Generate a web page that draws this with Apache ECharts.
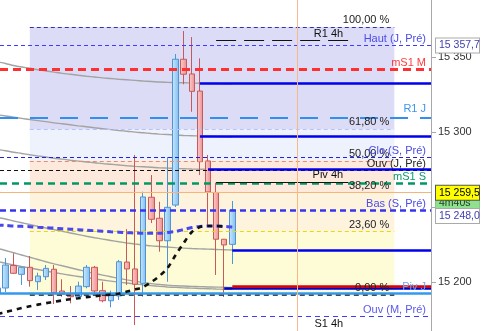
<!DOCTYPE html>
<html><head><meta charset="utf-8">
<script src="https://cdn.jsdelivr.net/npm/echarts@6/dist/echarts.min.js"></script>
<style>html,body{margin:0;padding:0;background:#fff}#c{width:483px;height:331px}</style>
</head><body><div id="c"></div>
<script>
// ---------- DATA ----------
// candles, index 1..30
const candleOpen  = [15192.7,15196.0,15211.0,15205.1,15209.8,15200.2,15203.5,15208.5,15194.0,15191.3,15190.2,15196.9,15209.8,15194.2,15187.5,15190.7,15213.3,15208.7,15199.1,15256.5,15242.5,15227.5,15251.3,15348.5,15338.7,15327.3,15280.7,15259.7,15228.5,15225.1];
const candleClose = [15196.0,15211.3,15205.8,15209.8,15200.9,15204.0,15209.1,15192.9,15191.8,15190.2,15197.3,15209.8,15194.0,15187.5,15191.3,15213.5,15208.7,15198.5,15256.7,15241.8,15227.5,15249.8,15348.5,15338.5,15327.1,15280.2,15260.0,15228.5,15224.7,15248.0];
const candleLow   = [15190.7,15193.3,15205.5,15198.0,15196.9,15194.7,15201.3,15185.3,15190.2,15185.8,15189.1,15195.8,15192.5,15186.5,15183.1,15188.0,15198.0,15171.3,15190.2,15239.3,15220.2,15200.2,15250.0,15331.8,15313.5,15271.3,15237.3,15204.7,15190.0,15212.0];
const candleHigh  = [15198.0,15216.0,15219.1,15210.0,15217.3,15206.2,15211.3,15211.3,15201.8,15197.3,15200.2,15211.3,15210.7,15200.2,15194.2,15214.7,15235.3,15284.7,15260.2,15271.3,15253.5,15283.3,15352.0,15367.3,15363.3,15349.1,15284.7,15266.2,15228.7,15254.0];

// moving averages (gray)
const ma1 = [15346.7,15345.7,15344.3,15343.3,15342.5,15341.5,15340.7,15339.9,15339.1,15338.5,15337.8,15337.2,15336.7,15336.1,15335.7,15335.2,15334.8,15334.4,15334.0,15333.7,15333.3,15333.1,15332.9,15332.8,15332.7,15332.5,15332.4,15332.3,15332.2,15332.1];
const ma2 = [15311.5,15310.7,15309.9,15309.1,15308.3,15307.6,15306.9,15306.1,15305.5,15304.8,15304.1,15303.5,15302.8,15302.2,15301.6,15301.0,15300.5,15299.9,15299.5,15299.0,15298.6,15298.3,15298.0,15297.7,15297.5,15297.3,15297.2,15297.1,15296.9,15296.8];
const ma3 = [15288.3,15287.5,15286.5,15285.7,15284.8,15284.0,15283.3,15282.5,15281.9,15281.2,15280.6,15280.0,15279.5,15278.9,15278.5,15278.0,15277.5,15277.1,15276.8,15276.5,15276.1,15275.9,15275.7,15275.5,15275.3,15275.2,15275.1,15275.0,15274.9,15274.9];
const ma4 = [15243.0,15242.0,15240.7,15239.5,15238.3,15237.1,15236.0,15234.9,15233.8,15232.7,15231.6,15230.5,15229.5,15228.6,15227.7,15226.8,15226.0,15225.3,15224.7,15224.1,15223.7,15223.3,15222.9,15222.6,15222.3,15222.1,15221.9,15221.7,15221.5,15221.3];
const ma5 = [15222.5,15221.0,15219.5,15218.0,15216.5,15215.0,15213.5,15212.1,15210.8,15209.5,15208.2,15206.9,15205.7,15204.6,15203.5,15202.4,15201.4,15200.5,15199.7,15198.9,15198.3,15197.9,15197.5,15197.3,15197.1,15196.9,15196.7,15196.6,15196.5,15196.3];
const ma6 = [15213.7,15212.5,15211.4,15210.3,15209.3,15208.3,15207.3,15206.3,15205.4,15204.5,15203.7,15202.9,15202.1,15201.3,15200.6,15199.9,15199.3,15198.7,15198.1,15197.6,15197.1,15196.7,15196.4,15196.1,15195.9,15195.7,15195.5,15195.3,15195.2,15195.1];
// trailing indicators (dashed)
const trailBlack = [15178.6,15180.0,15181.3,15182.6,15183.8,15184.9,15185.9,15186.8,15187.7,15188.5,15189.2,15189.9,15190.5,15191.1,15191.6,15192.2,15193.7,15195.0,15196.7,15200.0,15204.0,15209.3,15218.0,15226.0,15233.3,15236.7,15237.3,15237.3,15237.0];
const trailBlue  = [15238.0,15237.7,15237.3,15237.1,15236.9,15236.5,15236.2,15235.9,15235.5,15235.2,15234.9,15234.5,15234.2,15233.9,15233.5,15233.2,15232.9,15232.7,15232.5,15232.5,15232.5,15233.0,15233.7,15235.0,15236.3,15237.0,15237.3,15237.3,15237.0,15236.7];

// named levels (full width)
const levelNames  = ['Haut (J, Pré)','mS1 M','R1 J','Clo (S, Pré)','Ouv (J, Pré)','mS1 S','Bas (S, Pré)','Piv J','Ouv (M, Pré)'];
const levelValues = [15357.7,15342.0,15309.5,15283.3,15274.5,15266.0,15248.0,15192.3,15177.3];
// Fibonacci retracement
const fibLabels = ['100,00 %','61,80 %','50,00 %','38,20 %','23,60 %','0,00 %'];
const fibValues = [15370.0,15301.7,15280.7,15259.6,15233.5,15191.3];
const fibRange  = [5, 50];          // candle index range of the retracement box
// 4h pivots
const piv4hNames  = ['R1 4h','Piv 4h','S1 4h'];
const piv4hValues = [15361.3,15266.7,15167.6];
const piv4hRange  = [28, 44.3];
// lines starting at a candle and extending right
const rayStart  = [26, 26, 27, 30, 29, 30];
const rayValues = [15332.7, 15297.3, 15275.3, 15221.3, 15196.0, 15197.0];
// current price, timer, vertical marker
const lastPrice = 15259.5;
const timerText = '4m40s';
const timerValue = 15252.7;
const vMarker = 38;
// axis
const yTicks = [15200, 15250, 15300, 15350];
const yTickLabels = ['15 200','15 250','15 300','15 350'];

// ---------- STYLE / LAYOUT ----------
const FONT = '"Liberation Sans", Arial, sans-serif';
const xMin = 1.32, xMax = 54.53;
const yMin = 15167.33, yMax = 15388;

function fmt(v){ const s = v.toFixed(1).split('.'); const i = s[0]; return i.slice(0, i.length-3) + ' ' + i.slice(-3) + ',' + s[1]; }

const levelStyles = [
  {color:'#3d3dff', width:1, type:[4,3], text:'#4b4bea'},
  {color:'#ff3030', width:3, type:[8,5], text:'#ff3b3b'},
  {color:'#3090f0', width:2, type:[18,12], text:'#3d95ee', dy:3},
  {color:'#2222d8', width:1, type:[4,3], text:'#4b4bea'},
  {color:'#111111', width:1, type:[4,3], text:'#222'},
  {color:'#009966', width:2.5, type:[7,5], text:'#0a9a6a'},
  {color:'#3535f0', width:2.5, type:[6,4], text:'#4b4bea'},
  {color:'#3399ee', width:2.5, type:'solid', text:'#6aaaf0'},
  {color:'#3d3dff', width:1, type:[5,4], text:'#5a5aee'}
];
const fibStyles = [
  {color:'#3030b0', width:1, type:[4,3]},
  {color:'#b4c4fa', width:1, type:[4,3]},
  {color:'#f08a60', width:1, type:[4,3]},
  {color:'#f5b47a', width:1, type:'solid'},
  {color:'#e6dc00', width:1.2, type:[4,3]},
  {color:'#111111', width:1.5, type:[5,4]}
];
const bandColors = ['#dcdcf7','#eef2fd','#fdeadd','#fef3dd','#fdfcd6'];
const rayStyles = [
  {color:'#0000ee', width:2.5},{color:'#0000ee', width:2.5},{color:'#0000ee', width:2.5},
  {color:'#0000ee', width:2.5},{color:'#0000cc', width:2.5},{color:'#dd0000', width:2.5}
];

function nameLabel(text, color, dy){
  return {show:true, position:'insideEndTop', formatter:text, color:color, fontSize:11, fontFamily:FONT, distance:[5, dy==null?1:dy]};
}
function boxLabel(text, color, bg, border, offY){
  return {show:true, position:'end', formatter:text, color:color, backgroundColor:bg, borderColor:border||bg, borderWidth:1,
    fontSize:10.5, fontFamily:FONT, padding:[2,2,1,3], width:38, distance:5, offset:[0, offY||0]};
}
function hiddenLine(){ return {color:'rgba(255,255,255,0)', width:0.01, type:'solid', opacity:1}; }

const ml = [];
// fibonacci lines
fibValues.forEach((v,i)=>{
  const s = fibStyles[i];
  ml.push([{coord:[fibRange[0], v], lineStyle:{color:s.color, width:s.width, type:s.type}, label:nameLabel(fibLabels[i], '#222', 1.5)},
           {coord:[fibRange[1], v]}]);
});
// current price
ml.push({yAxis:lastPrice, lineStyle:{color:'#f5b47a', width:1, type:'solid'}, label:{show:false}});
// named levels; the first one also carries its price box
levelValues.forEach((v,i)=>{
  const s = levelStyles[i];
  ml.push({yAxis:v, lineStyle:{color:s.color, width:s.width, type:s.type}, label:nameLabel(levelNames[i], s.text, s.dy)});
});
// 4h pivots
piv4hValues.forEach((v,i)=>{
  const ls = i===2 ? hiddenLine() : {color:'#111', width:1, type: i===0?[20,8]:'solid'};
  ml.push([{coord:[piv4hRange[0], v], lineStyle:ls, label:nameLabel(piv4hNames[i], '#111', 1)}, {coord:[piv4hRange[1], v]}]);
});
// rays
rayValues.forEach((v,i)=>{
  ml.push([{coord:[rayStart[i], v], lineStyle:{color:rayStyles[i].color, width:rayStyles[i].width, type:'solid'}, label:{show:false}},
           {coord:[xMax, v]}]);
});
// vertical marker
ml.push({xAxis:vMarker, lineStyle:{color:'#f8b88a', width:1, type:'solid'}, label:{show:false}});
// axis boxes (attached to short invisible segments at the right edge)
function boxItem(v, lbl){ return [{coord:[xMax-0.5, v], lineStyle:hiddenLine(), label:lbl}, {coord:[xMax, v]}]; }
ml.push(boxItem(timerValue, boxLabel(timerText, '#1a3a1a', '#8fe08f', '#7ccc7c', 0)));
ml.push(boxItem(levelValues[0], boxLabel(fmt(levelValues[0]), '#4040b0', '#ffffff', '#aaaaaa', 0)));
ml.push(boxItem(lastPrice, boxLabel(fmt(lastPrice), '#000', '#ffff00', '#555555', 0)));
ml.push(boxItem(levelValues[6], boxLabel(fmt(levelValues[6]), '#4040b0', '#ffffff', '#aaaaaa', 6)));

const bands = [];
for (let i=0;i<bandColors.length;i++){
  bands.push([{coord:[fibRange[0], fibValues[i]], itemStyle:{color:bandColors[i]}}, {coord:[fibRange[1], fibValues[i+1]]}]);
}

function toXY(arr){ return arr.map((v,i)=>[i+1, v]); }
const grays = [ma1,ma2,ma3,ma4,ma5,ma6].map(a=>({type:'line', data:toXY(a), showSymbol:false, smooth:0.3, lineStyle:{color:'#a3a3a3', width:1.4}, z:2, silent:true}));

const chart = echarts.init(document.getElementById('c'), null, {renderer:'canvas'});
chart.setOption({
  animation:false,
  backgroundColor:'#ffffff',
  textStyle:{fontFamily:FONT},
  grid:{left:0, right:52, top:0, bottom:0, containLabel:false, outerBoundsMode:'none'},
  xAxis:{type:'value', min:xMin, max:xMax, show:false},
  yAxis:{type:'value', position:'right', min:yMin, max:yMax,
    axisLine:{show:true, lineStyle:{color:'#a8a8a8', width:1}},
    axisTick:{show:true, length:5, lineStyle:{color:'#a8a8a8'}, customValues:yTicks},
    axisLabel:{show:true, customValues:yTicks, color:'#333', fontSize:11, margin:7, fontFamily:FONT,
      formatter:(v)=>{ const i = yTicks.indexOf(v); return i>=0 ? yTickLabels[i] : ''; }},
    splitLine:{show:false}},
  series:[
    {type:'line', data:[], z:1, silent:true, markArea:{silent:true, data:bands}},
    ...grays,
    {type:'candlestick', z:3, barWidth:6, silent:true,
      data: candleOpen.map((o,i)=>[i+1, o, candleClose[i], candleLow[i], candleHigh[i]]),
      encode:{x:0, y:[1,2,3,4]},
      itemStyle:{
        color: new echarts.graphic.LinearGradient(0,0,1,0,[{offset:0,color:'#cfe9fc'},{offset:1,color:'#7dbcef'}]),
        color0: new echarts.graphic.LinearGradient(0,0,1,0,[{offset:0,color:'#fcd0d0'},{offset:1,color:'#ef8c8c'}]),
        borderColor:'#4f94d4', borderColor0:'#c55a5a', borderWidth:1}},
    {type:'line', data:[], z:4, silent:true, color:'rgba(0,0,0,0)',
      markLine:{symbol:['none','none'], silent:true, animation:false, lineStyle:{color:'rgba(0,0,0,0)'}, data:ml}},
    {type:'line', data:toXY(trailBlue), z:5, showSymbol:false, smooth:0.3, silent:true, lineStyle:{color:'#4848ee', width:3, type:[6,4]}},
    {type:'line', data:toXY(trailBlack), z:5, showSymbol:false, smooth:0.3, silent:true, lineStyle:{color:'#111', width:2.6, type:[5,5]}}
  ]
});
</script></body></html>
